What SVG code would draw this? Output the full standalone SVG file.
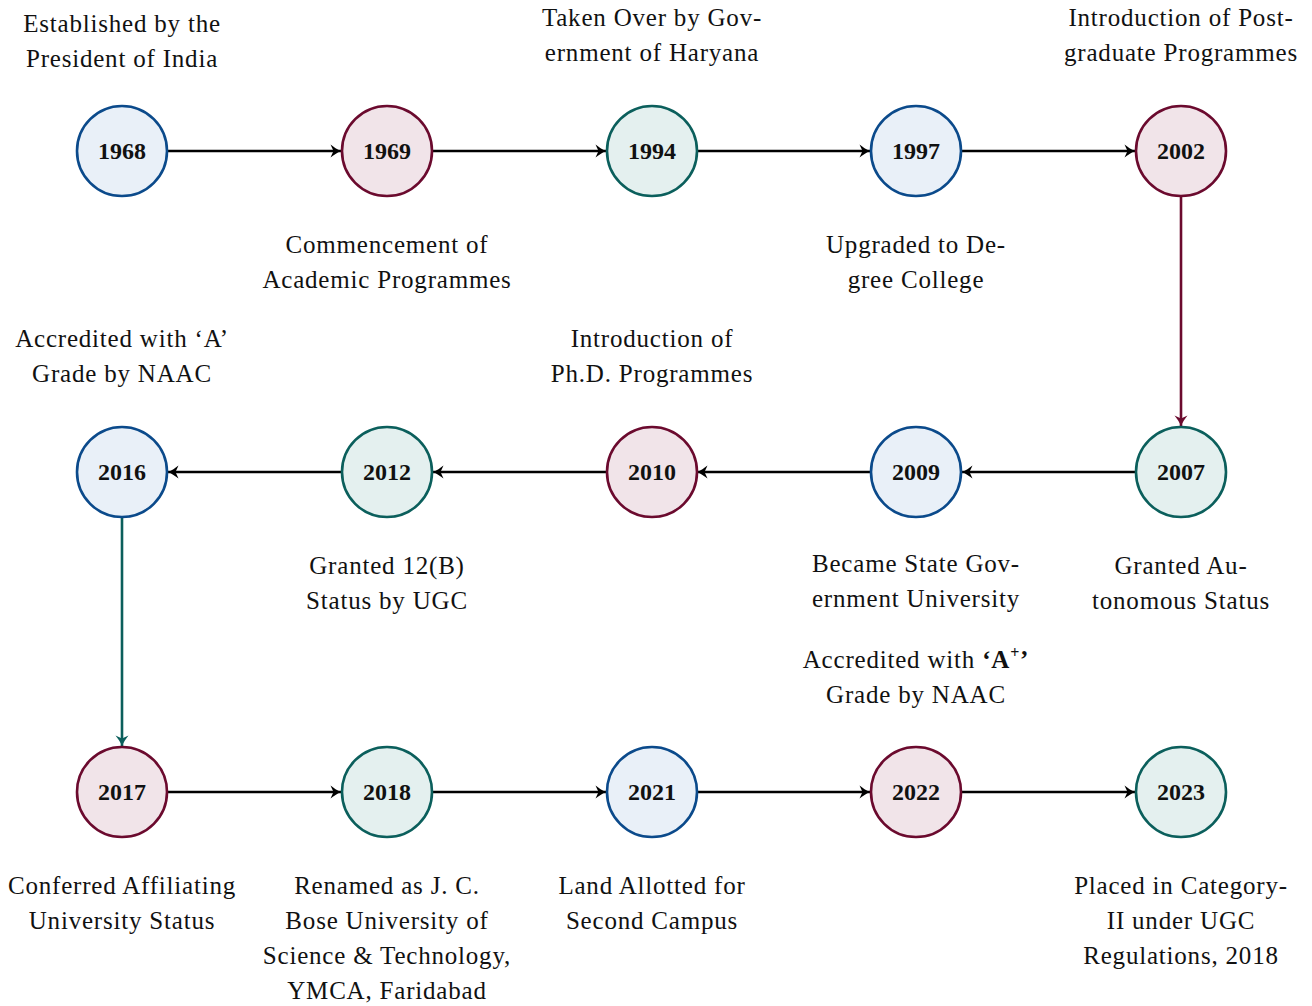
<svg xmlns="http://www.w3.org/2000/svg" width="1312" height="1006" viewBox="0 0 1312 1006">
<style>
.lbl{font-family:"Liberation Serif","DejaVu Serif",serif;font-size:25px;letter-spacing:0.8px;fill:#111;text-anchor:middle}
.yr{font-family:"Liberation Serif","DejaVu Serif",serif;font-size:24px;font-weight:bold;fill:#111;text-anchor:middle}
.b{fill:#e9f0f8;stroke:#0b4a8b;stroke-width:2.6}
.m{fill:#f1e4e9;stroke:#6b0a2e;stroke-width:2.6}
.t{fill:#e4f0ef;stroke:#0b5f5c;stroke-width:2.6}
.c{fill:none;stroke-width:2.6}
</style>
<defs>
<marker id="ak" markerUnits="userSpaceOnUse" markerWidth="18" markerHeight="18" refX="14" refY="9" orient="auto" viewBox="0 0 18 18">
<path d="M14,9 C10.5,7.5 6.5,5 3.5,2.5 L6.5,9 L3.5,15.5 C6.5,13 10.5,10.5 14,9 Z" fill="#000"/>
</marker>
<marker id="am" markerUnits="userSpaceOnUse" markerWidth="18" markerHeight="18" refX="14" refY="9" orient="auto" viewBox="0 0 18 18">
<path d="M14,9 C10.5,7.5 6.5,5 3.5,2.5 L6.5,9 L3.5,15.5 C6.5,13 10.5,10.5 14,9 Z" fill="#6b0a2e"/>
</marker>
<marker id="at" markerUnits="userSpaceOnUse" markerWidth="18" markerHeight="18" refX="14" refY="9" orient="auto" viewBox="0 0 18 18">
<path d="M14,9 C10.5,7.5 6.5,5 3.5,2.5 L6.5,9 L3.5,15.5 C6.5,13 10.5,10.5 14,9 Z" fill="#0b5f5c"/>
</marker>
</defs>
<rect width="1312" height="1006" fill="#fff"/>
<g id="connectors">
<line class="c" stroke="#000" x1="168" y1="151" x2="341" y2="151" marker-end="url(#ak)"/>
<line class="c" stroke="#000" x1="433" y1="151" x2="606" y2="151" marker-end="url(#ak)"/>
<line class="c" stroke="#000" x1="698" y1="151" x2="870" y2="151" marker-end="url(#ak)"/>
<line class="c" stroke="#000" x1="962" y1="151" x2="1135" y2="151" marker-end="url(#ak)"/>
<line class="c" stroke="#6b0a2e" x1="1181" y1="197" x2="1181" y2="426" marker-end="url(#am)"/>
<line class="c" stroke="#000" x1="1135" y1="472" x2="962" y2="472" marker-end="url(#ak)"/>
<line class="c" stroke="#000" x1="870" y1="472" x2="697" y2="472" marker-end="url(#ak)"/>
<line class="c" stroke="#000" x1="606" y1="472" x2="433" y2="472" marker-end="url(#ak)"/>
<line class="c" stroke="#000" x1="341" y1="472" x2="168" y2="472" marker-end="url(#ak)"/>
<line class="c" stroke="#0b5f5c" x1="122" y1="518" x2="122" y2="746" marker-end="url(#at)"/>
<line class="c" stroke="#000" x1="168" y1="792" x2="341" y2="792" marker-end="url(#ak)"/>
<line class="c" stroke="#000" x1="433" y1="792" x2="606" y2="792" marker-end="url(#ak)"/>
<line class="c" stroke="#000" x1="698" y1="792" x2="870" y2="792" marker-end="url(#ak)"/>
<line class="c" stroke="#000" x1="962" y1="792" x2="1135" y2="792" marker-end="url(#ak)"/>
</g>
<g id="n1968"><circle class="b" cx="122" cy="151" r="45"/><text class="yr" x="122" y="159">1968</text>
<text class="lbl" x="122" y="32">Established by the</text><text class="lbl" x="122" y="67">President of India</text></g>
<g id="n1969"><circle class="m" cx="387" cy="151" r="45"/><text class="yr" x="387" y="159">1969</text>
<text class="lbl" x="387" y="253">Commencement of</text><text class="lbl" x="387" y="288">Academic Programmes</text></g>
<g id="n1994"><circle class="t" cx="652" cy="151" r="45"/><text class="yr" x="652" y="159">1994</text>
<text class="lbl" x="652" y="26">Taken Over by Gov-</text><text class="lbl" x="652" y="61">ernment of Haryana</text></g>
<g id="n1997"><circle class="b" cx="916" cy="151" r="45"/><text class="yr" x="916" y="159">1997</text>
<text class="lbl" x="916" y="253">Upgraded to De-</text><text class="lbl" x="916" y="288">gree College</text></g>
<g id="n2002"><circle class="m" cx="1181" cy="151" r="45"/><text class="yr" x="1181" y="159">2002</text>
<text class="lbl" x="1181" y="26">Introduction of Post-</text><text class="lbl" x="1181" y="61">graduate Programmes</text></g>
<g id="n2007"><circle class="t" cx="1181" cy="472" r="45"/><text class="yr" x="1181" y="480">2007</text>
<text class="lbl" x="1181" y="574">Granted Au-</text><text class="lbl" x="1181" y="609">tonomous Status</text></g>
<g id="n2009"><circle class="b" cx="916" cy="472" r="45"/><text class="yr" x="916" y="480">2009</text>
<text class="lbl" x="916" y="572">Became State Gov-</text><text class="lbl" x="916" y="607">ernment University</text></g>
<g id="n2010"><circle class="m" cx="652" cy="472" r="45"/><text class="yr" x="652" y="480">2010</text>
<text class="lbl" x="652" y="347">Introduction of</text><text class="lbl" x="652" y="382">Ph.D. Programmes</text></g>
<g id="n2012"><circle class="t" cx="387" cy="472" r="45"/><text class="yr" x="387" y="480">2012</text>
<text class="lbl" x="387" y="574">Granted 12(B)</text><text class="lbl" x="387" y="609">Status by UGC</text></g>
<g id="n2016"><circle class="b" cx="122" cy="472" r="45"/><text class="yr" x="122" y="480">2016</text>
<text class="lbl" x="122" y="347">Accredited with ‘A’</text><text class="lbl" x="122" y="382">Grade by NAAC</text></g>
<g id="n2017"><circle class="m" cx="122" cy="792" r="45"/><text class="yr" x="122" y="800">2017</text>
<text class="lbl" x="122" y="894">Conferred Affiliating</text><text class="lbl" x="122" y="929">University Status</text></g>
<g id="n2018"><circle class="t" cx="387" cy="792" r="45"/><text class="yr" x="387" y="800">2018</text>
<text class="lbl" x="387" y="894">Renamed as J. C.</text><text class="lbl" x="387" y="929">Bose University of</text><text class="lbl" x="387" y="964">Science &amp; Technology,</text><text class="lbl" x="387" y="999">YMCA, Faridabad</text></g>
<g id="n2021"><circle class="b" cx="652" cy="792" r="45"/><text class="yr" x="652" y="800">2021</text>
<text class="lbl" x="652" y="894">Land Allotted for</text><text class="lbl" x="652" y="929">Second Campus</text></g>
<g id="n2022"><circle class="m" cx="916" cy="792" r="45"/><text class="yr" x="916" y="800">2022</text>
<text class="lbl" x="916" y="668">Accredited with <tspan font-weight="bold">‘A<tspan font-size="16" dy="-10">+</tspan><tspan dy="10">’</tspan></tspan></text><text class="lbl" x="916" y="703">Grade by NAAC</text></g>
<g id="n2023"><circle class="t" cx="1181" cy="792" r="45"/><text class="yr" x="1181" y="800">2023</text>
<text class="lbl" x="1181" y="894">Placed in Category-</text><text class="lbl" x="1181" y="929">II under UGC</text><text class="lbl" x="1181" y="964">Regulations, 2018</text></g>
</svg>
